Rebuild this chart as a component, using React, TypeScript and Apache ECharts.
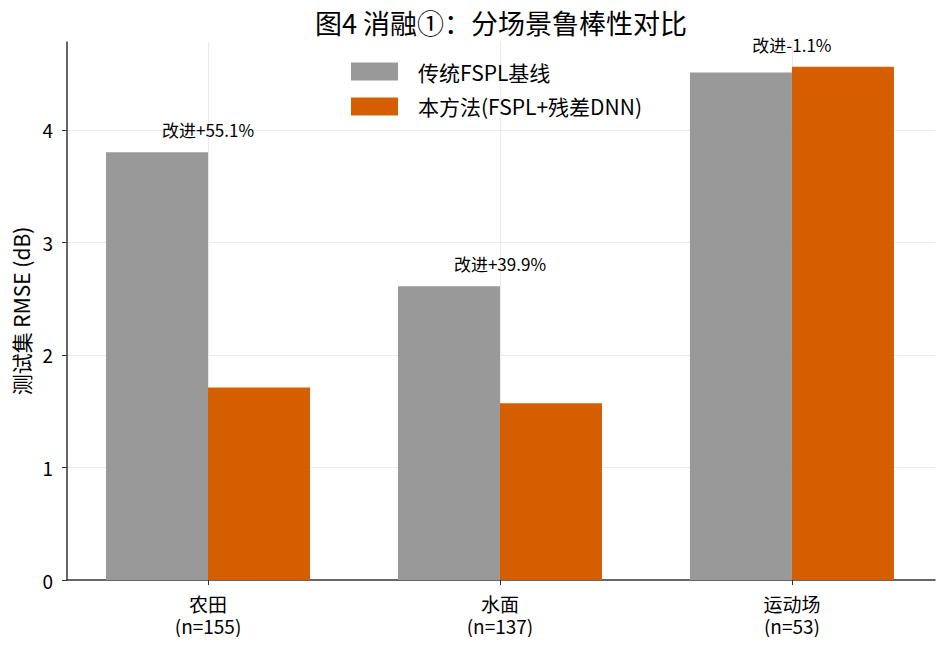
import React, { useEffect, useRef } from "react";
import * as echarts from "echarts";

const categories = ["农田", "水面", "运动场"];
const sampleCounts = [155, 137, 53];
const baselineRmse = [3.8, 2.61, 4.51];
const ourRmse = [1.71, 1.57, 4.56];
const improvementText = ["改进+55.1%", "改进+39.9%", "改进-1.1%"];
const yTicks = [0, 1, 2, 3, 4];
const seriesNames = ["传统FSPL基线", "本方法(FSPL+残差DNN)"];

const FONT = "'Noto Sans CJK SC', 'DejaVu Sans', sans-serif";

export default function App() {
  const ref = useRef<HTMLDivElement>(null);
  useEffect(() => {
    if (!ref.current) return;
    const chart = echarts.init(ref.current, undefined, { renderer: "svg" });
    const catIdx = categories.map((_, i) => i);
    const annData = catIdx.map((i) => [i, Math.max(baselineRmse[i], ourRmse[i]) + 0.2]);
    const gridColor = "#ebebeb";
    chart.setOption({
      animation: false,
      textStyle: { fontFamily: FONT },
      title: {
        text: "图4 消融①：分场景鲁棒性对比",
        left: 493,
        textAlign: "center",
        top: 1,
        padding: 0,
        textStyle: { fontFamily: FONT, fontSize: 27, fontWeight: "normal", color: "#000" },
      },
      legend: {
        orient: "vertical",
        left: 343,
        top: 53,
        padding: 0,
        itemWidth: 47,
        itemHeight: 18,
        itemGap: 14,
        icon: "rect",
        textStyle: { fontFamily: FONT, fontSize: 21, color: "#000", padding: [0, 0, 0, 15] },
        data: seriesNames,
      },
      grid: { left: 59, right: 4, top: 34, bottom: 57, containLabel: false, outerBoundsMode: "none" },
      xAxis: {
        type: "value",
        min: -0.483,
        max: 2.49,
        axisLine: { show: true, onZero: false, lineStyle: { color: "#333", width: 1.5 } },
        axisTick: { show: true, customValues: catIdx, length: 5, lineStyle: { color: "#333" } },
        axisLabel: {
          customValues: catIdx,
          fontFamily: FONT,
          fontSize: 19,
          color: "#000",
          lineHeight: 22,
          margin: 12,
          formatter: (v: number) => {
            const i = Math.round(v);
            return categories[i] !== undefined ? `${categories[i]}\n(n=${sampleCounts[i]})` : "";
          },
        },
        splitLine: { show: false },
      },
      yAxis: {
        type: "value",
        min: 0,
        max: 4.78,
        name: "测试集 RMSE (dB)",
        nameLocation: "middle",
        nameGap: 34,
        nameTextStyle: { fontFamily: FONT, fontSize: 21, color: "#000" },
        axisLine: { show: true, onZero: false, lineStyle: { color: "#333", width: 1.5 } },
        axisTick: { show: true, customValues: yTicks, length: 5, lineStyle: { color: "#333" } },
        axisLabel: {
          customValues: yTicks,
          fontFamily: FONT,
          fontSize: 19,
          color: "#000",
          margin: 14,
        },
        splitLine: { show: false },
      },
      series: [
        {
          type: "scatter",
          z: 0,
          data: [[-10, -10]],
          symbolSize: 0,
          silent: true,
          markLine: {
            z: 0,
            silent: true,
            symbol: "none",
            label: { show: false },
            lineStyle: { color: gridColor, width: 1.2, type: "solid" },
            data: [
              ...yTicks.slice(1).map((v) => ({ yAxis: v })),
              ...catIdx.map((v) => ({ xAxis: v })),
            ],
          },
        },
        {
          name: seriesNames[0],
          type: "bar",
          z: 2,
          barWidth: 102,
          barGap: "0%",
          itemStyle: { color: "#999999" },
          data: catIdx.map((i) => [i, baselineRmse[i]]),
        },
        {
          name: seriesNames[1],
          type: "bar",
          z: 2,
          barWidth: 102,
          barGap: "0%",
          itemStyle: { color: "#D55E00" },
          data: catIdx.map((i) => [i, ourRmse[i]]),
        },
        {
          type: "scatter",
          z: 3,
          symbolSize: 0,
          silent: true,
          itemStyle: { opacity: 1 },
          data: annData,
          label: {
            show: true,
            position: "inside",
            fontFamily: FONT,
            fontSize: 17,
            color: "#000",
            opacity: 1,
            formatter: (p: any) => improvementText[p.dataIndex],
          },
        },
      ],
    });
    return () => chart.dispose();
  }, []);
  return <div ref={ref} style={{ width: 931, height: 629 }} />;
}
